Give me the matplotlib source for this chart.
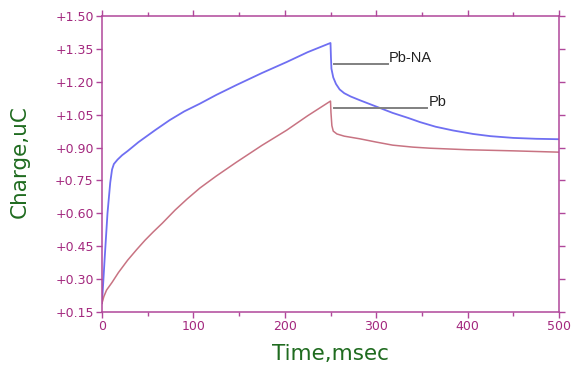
import matplotlib
matplotlib.use("Agg")
import matplotlib.pyplot as plt
from matplotlib.ticker import MultipleLocator, FormatStrFormatter

# Pb-NA curve (blue)
t_pbna = [0, 3, 6, 9, 11, 13, 17, 22, 28, 40, 58, 74, 90, 107, 125, 147, 175, 202, 225, 250,
          250.5, 251, 253, 256, 260, 265, 272, 282, 300, 318, 335, 348, 365, 384, 406, 425,
          450, 475, 500]
q_pbna = [0.19, 0.40, 0.60, 0.74, 0.80, 0.825, 0.845, 0.865, 0.884, 0.925, 0.979, 1.025,
          1.065, 1.10, 1.14, 1.185, 1.24, 1.29, 1.335, 1.377,
          1.31, 1.26, 1.22, 1.19, 1.165, 1.148, 1.133, 1.116, 1.087, 1.058, 1.035, 1.016,
          0.995, 0.978, 0.962, 0.952, 0.944, 0.940, 0.938]

# Pb curve (rose)
t_pb = [0, 2, 5, 11, 18, 28, 38, 47, 56, 66, 80, 93, 107, 125, 147, 175, 202, 225, 250,
        250.5, 251.5, 253, 257, 265, 282, 300, 318, 340, 359, 400, 450, 500]
q_pb = [0.19, 0.22, 0.25, 0.285, 0.33, 0.386, 0.435, 0.477, 0.515, 0.555, 0.615, 0.665,
        0.715, 0.77, 0.833, 0.91, 0.979, 1.045, 1.112,
        1.06, 1.0, 0.975, 0.962, 0.952, 0.940, 0.925, 0.911, 0.902, 0.897, 0.89, 0.885, 0.879]

# labels with leader lines: (text, x start, x end, y)
labels = [("Pb-NA", 254, 313, 1.283), ("Pb", 254, 356, 1.079)]

axis_col = "#b0479a"
tick_col = "#a3287e"
label_col = "#1f6b1f"

fig = plt.figure(figsize=(5.71, 3.65), dpi=100)
ax = fig.add_axes([102 / 571, 1 - 312 / 365, 457 / 571, 296 / 365])

ax.plot(t_pbna, q_pbna, color="#6f6ff2", lw=1.3)
ax.plot(t_pb, q_pb, color="#c87382", lw=1.1)

for text, x0, x1, y in labels:
    ax.plot([x0, x1], [y, y], color="#808080", lw=1.4)
    ax.text(x1 + 1, y - 0.005, text, fontsize=10.5, family="Liberation Sans",
            ha="left", va="bottom", color="#222222")

ax.set_xlim(0, 500)
ax.set_ylim(0.15, 1.50)
ax.xaxis.set_major_locator(MultipleLocator(100))
ax.xaxis.set_minor_locator(MultipleLocator(50))
ax.yaxis.set_major_locator(MultipleLocator(0.15))
ax.yaxis.set_major_formatter(FormatStrFormatter("%+.2f"))

for s in ax.spines.values():
    s.set_color(axis_col)
    s.set_linewidth(1.1)

ax.tick_params(axis="both", which="both", direction="out", color=axis_col,
               labelcolor=tick_col, labelsize=9, width=1.0,
               top=True, right=True)
ax.tick_params(axis="both", which="major", length=4, pad=2)
ax.tick_params(axis="x", which="minor", length=3)

fig.text(330 / 571, 1 - 354 / 365, "Time,msec", color=label_col,
         fontsize=15.5, ha="center", va="center")
fig.text(20 / 571, 1 - 162 / 365, "Charge,uC", color=label_col,
         fontsize=15.5, ha="center", va="center", rotation=90)

fig.savefig("out.png", dpi=100)
